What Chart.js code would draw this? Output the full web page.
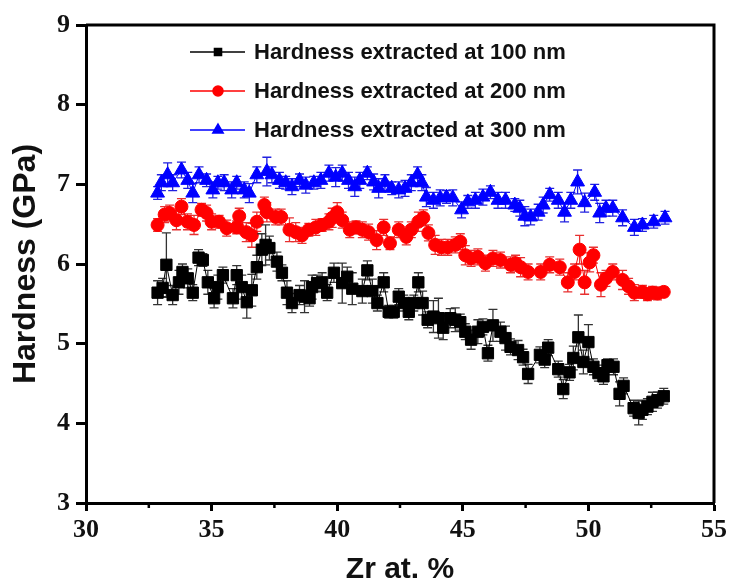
<!DOCTYPE html>
<html>
<head>
<meta charset="utf-8">
<script src="https://cdn.jsdelivr.net/npm/chart.js@4/dist/chart.umd.min.js"></script>
<style>
  html, body { margin: 0; padding: 0; background: #fff; }
  #wrap { width: 731px; height: 580px; }
</style>
</head>
<body>
<div id="wrap"><canvas id="myChart" width="731" height="580"></canvas></div>
<script>
// Hardness vs Zr content, three extraction depths
const zr100 = [32.85, 33.05, 33.2, 33.45, 33.7, 33.84, 34.05, 34.25, 34.48, 34.65, 34.85, 35.1, 35.25, 35.45, 35.85, 36.0, 36.2, 36.4, 36.6, 36.8, 37.0, 37.15, 37.3, 37.6, 37.8, 38.0, 38.2, 38.5, 38.7, 38.9, 39.0, 39.2, 39.4, 39.6, 39.87, 40.2, 40.4, 40.6, 41.0, 41.2, 41.4, 41.6, 41.85, 42.05, 42.25, 42.45, 42.65, 42.85, 43.05, 43.23, 43.4, 43.6, 43.83, 44.03, 44.22, 44.5, 44.7, 44.9, 45.1, 45.33, 45.6, 45.8, 46.0, 46.2, 46.5, 46.7, 46.9, 47.2, 47.4, 47.6, 48.07, 48.26, 48.4, 48.8, 49.0, 49.25, 49.4, 49.6, 49.8, 50.0, 50.2, 50.4, 50.6, 50.76, 51.0, 51.24, 51.4, 51.8, 52.0, 52.15, 52.35, 52.55, 52.75, 53.0]
const h100 = [5.64, 5.70, 5.99, 5.61, 5.77, 5.90, 5.82, 5.64, 6.08, 6.05, 5.77, 5.57, 5.71, 5.86, 5.57, 5.86, 5.71, 5.52, 5.67, 5.96, 6.18, 6.24, 6.20, 6.03, 5.89, 5.64, 5.51, 5.61, 5.59, 5.57, 5.71, 5.76, 5.77, 5.64, 5.89, 5.76, 5.84, 5.69, 5.66, 5.92, 5.66, 5.51, 5.77, 5.40, 5.40, 5.59, 5.51, 5.40, 5.51, 5.77, 5.51, 5.30, 5.34, 5.32, 5.20, 5.32, 5.30, 5.27, 5.15, 5.05, 5.15, 5.21, 4.88, 5.23, 5.15, 5.07, 4.96, 4.92, 4.83, 4.62, 4.86, 4.80, 4.95, 4.68, 4.43, 4.64, 4.82, 5.08, 4.77, 5.02, 4.71, 4.63, 4.59, 4.73, 4.71, 4.37, 4.47, 4.19, 4.13, 4.17, 4.21, 4.27, 4.29, 4.34]
const e100 = [0.15, 0.12, 0.40, 0.12, 0.15, 0.10, 0.12, 0.10, 0.10, 0.08, 0.15, 0.12, 0.15, 0.10, 0.12, 0.12, 0.15, 0.20, 0.20, 0.15, 0.20, 0.25, 0.15, 0.12, 0.10, 0.15, 0.12, 0.12, 0.20, 0.10, 0.15, 0.10, 0.12, 0.10, 0.12, 0.25, 0.12, 0.20, 0.15, 0.12, 0.15, 0.10, 0.12, 0.08, 0.08, 0.10, 0.10, 0.10, 0.10, 0.12, 0.15, 0.10, 0.20, 0.25, 0.15, 0.12, 0.15, 0.10, 0.10, 0.12, 0.15, 0.10, 0.10, 0.20, 0.12, 0.15, 0.10, 0.12, 0.10, 0.12, 0.10, 0.10, 0.10, 0.10, 0.12, 0.10, 0.15, 0.28, 0.15, 0.22, 0.10, 0.10, 0.10, 0.08, 0.10, 0.15, 0.10, 0.10, 0.15, 0.12, 0.10, 0.12, 0.10, 0.10]

const zr200 = [32.85, 33.13, 33.33, 33.6, 33.8, 34.04, 34.3, 34.6, 34.8, 35.0, 35.3, 35.6, 36.0, 36.1, 36.38, 36.6, 36.8, 37.1, 37.2, 37.55, 37.77, 38.1, 38.35, 38.6, 38.87, 39.15, 39.4, 39.67, 39.8, 40.0, 40.2, 40.5, 40.75, 41.0, 41.25, 41.57, 41.85, 42.1, 42.45, 42.75, 42.95, 43.23, 43.43, 43.63, 43.9, 44.15, 44.4, 44.7, 44.9, 45.1, 45.33, 45.6, 45.9, 46.2, 46.5, 46.9, 47.1, 47.3, 47.6, 48.1, 48.46, 48.86, 49.18, 49.45, 49.65, 49.85, 50.05, 50.2, 50.5, 50.7, 50.97, 51.36, 51.6, 51.83, 52.15, 52.35, 52.55, 52.75, 53.0]
const h200 = [6.49, 6.62, 6.64, 6.55, 6.72, 6.53, 6.49, 6.68, 6.64, 6.53, 6.53, 6.45, 6.46, 6.60, 6.40, 6.36, 6.53, 6.74, 6.65, 6.59, 6.59, 6.43, 6.40, 6.36, 6.43, 6.46, 6.49, 6.53, 6.58, 6.65, 6.55, 6.43, 6.46, 6.43, 6.40, 6.30, 6.46, 6.26, 6.43, 6.34, 6.43, 6.53, 6.58, 6.39, 6.24, 6.21, 6.21, 6.24, 6.28, 6.11, 6.07, 6.09, 6.01, 6.07, 6.05, 5.99, 6.01, 5.96, 5.90, 5.90, 5.99, 5.96, 5.77, 5.90, 6.18, 5.77, 6.02, 6.11, 5.74, 5.82, 5.90, 5.80, 5.72, 5.64, 5.65, 5.62, 5.64, 5.63, 5.65]
const e200 = [0.08, 0.10, 0.10, 0.12, 0.10, 0.10, 0.12, 0.08, 0.10, 0.10, 0.08, 0.10, 0.08, 0.10, 0.12, 0.15, 0.12, 0.10, 0.12, 0.10, 0.10, 0.15, 0.12, 0.10, 0.08, 0.10, 0.08, 0.10, 0.12, 0.12, 0.10, 0.10, 0.08, 0.10, 0.10, 0.12, 0.10, 0.08, 0.10, 0.10, 0.10, 0.12, 0.10, 0.10, 0.12, 0.10, 0.10, 0.10, 0.10, 0.12, 0.10, 0.10, 0.10, 0.10, 0.10, 0.10, 0.10, 0.12, 0.10, 0.10, 0.10, 0.10, 0.12, 0.10, 0.18, 0.15, 0.12, 0.10, 0.15, 0.10, 0.10, 0.12, 0.10, 0.10, 0.08, 0.08, 0.08, 0.08, 0.06]

const zr300 = [32.85, 33.0, 33.25, 33.45, 33.8, 34.05, 34.25, 34.5, 34.8, 35.05, 35.25, 35.5, 35.8, 36.0, 36.3, 36.5, 36.8, 37.2, 37.4, 37.7, 37.95, 38.2, 38.5, 38.75, 39.07, 39.35, 39.67, 39.94, 40.2, 40.45, 40.7, 40.9, 41.2, 41.45, 41.65, 41.9, 42.17, 42.45, 42.7, 42.95, 43.2, 43.37, 43.55, 43.83, 44.1, 44.35, 44.6, 44.95, 45.2, 45.5, 45.8, 46.1, 46.4, 46.7, 47.07, 47.27, 47.47, 47.7, 48.0, 48.2, 48.46, 48.8, 49.05, 49.3, 49.57, 49.85, 50.25, 50.45, 50.7, 50.97, 51.36, 51.83, 52.15, 52.6, 53.05]
const h300 = [6.89, 7.02, 7.12, 7.02, 7.18, 7.05, 6.89, 7.12, 7.05, 6.93, 7.02, 7.02, 6.93, 7.02, 6.93, 6.89, 7.12, 7.16, 7.12, 7.05, 7.02, 6.97, 7.05, 6.99, 7.02, 7.05, 7.14, 7.09, 7.14, 7.05, 6.97, 7.05, 7.14, 7.03, 6.95, 7.02, 6.95, 6.93, 6.95, 7.02, 7.12, 7.02, 6.84, 6.80, 6.83, 6.84, 6.83, 6.68, 6.78, 6.80, 6.84, 6.90, 6.80, 6.80, 6.74, 6.70, 6.60, 6.59, 6.65, 6.74, 6.87, 6.80, 6.65, 6.80, 7.03, 6.77, 6.90, 6.64, 6.70, 6.70, 6.58, 6.46, 6.49, 6.53, 6.58]
const e300 = [0.08, 0.10, 0.15, 0.10, 0.10, 0.10, 0.12, 0.10, 0.08, 0.10, 0.08, 0.10, 0.10, 0.08, 0.10, 0.12, 0.10, 0.18, 0.10, 0.10, 0.08, 0.10, 0.08, 0.10, 0.08, 0.10, 0.10, 0.12, 0.10, 0.10, 0.12, 0.10, 0.08, 0.10, 0.12, 0.10, 0.08, 0.10, 0.10, 0.10, 0.10, 0.10, 0.12, 0.10, 0.10, 0.08, 0.10, 0.10, 0.08, 0.10, 0.10, 0.08, 0.10, 0.10, 0.08, 0.10, 0.12, 0.10, 0.10, 0.10, 0.08, 0.10, 0.12, 0.10, 0.15, 0.12, 0.10, 0.12, 0.10, 0.10, 0.10, 0.10, 0.08, 0.08, 0.08]

const xTicks = [30, 35, 40, 45, 50, 55]
const xMinor = [32.5, 37.5, 42.5, 47.5, 52.5]
const yTicks = [3, 4, 5, 6, 7, 8, 9]

const seriesLabels = ['Hardness extracted at 100 nm', 'Hardness extracted at 200 nm', 'Hardness extracted at 300 nm']

const toPoints = (xs, ys) => xs.map((x, i) => ({ x, y: ys[i] }))

const serif = '"Liberation Serif", "Times New Roman", serif'
const sans = '"Liberation Sans", Arial, sans-serif'

// vertical error bars with caps, drawn under each dataset's markers
const errorBars = {
  id: 'errorBars',
  beforeDatasetDraw(chart, args) {
    const ds = chart.data.datasets[args.index]
    const { x, y } = chart.scales
    const c = chart.ctx
    c.save()
    c.strokeStyle = ds.errorColor
    c.lineWidth = 1.3
    ds.errors.forEach((e, i) => {
      const p = ds.data[i]
      const px = x.getPixelForValue(p.x)
      const top = y.getPixelForValue(p.y + e)
      const bot = y.getPixelForValue(p.y - e)
      c.beginPath()
      c.moveTo(px, top)
      c.lineTo(px, bot)
      c.moveTo(px - 4.5, top)
      c.lineTo(px + 4.5, top)
      c.moveTo(px - 4.5, bot)
      c.lineTo(px + 4.5, bot)
      c.stroke()
    })
    c.restore()
  },
}

// box frame, minor x ticks and the line+symbol legend
const frame = {
  id: 'frame',
  afterDraw(chart) {
    const c = chart.ctx
    const { left, right, top, bottom } = chart.chartArea
    const x = chart.scales.x
    c.save()
    c.strokeStyle = '#000'
    c.lineWidth = 3
    c.beginPath()
    c.moveTo(left, top)
    c.lineTo(right, top)
    c.lineTo(right, bottom)
    c.stroke()

    c.lineWidth = 2.5
    xMinor.forEach((v) => {
      const px = x.getPixelForValue(v)
      c.beginPath()
      c.moveTo(px, bottom)
      c.lineTo(px, bottom + 5)
      c.stroke()
    })

    const rows = [52, 91, 130]
    chart.data.datasets.forEach((ds, i) => {
      const yy = rows[i]
      c.strokeStyle = ds.borderColor
      c.fillStyle = ds.backgroundColor
      c.lineWidth = 1.5
      c.beginPath()
      c.moveTo(190, yy)
      c.lineTo(245, yy)
      c.stroke()
      Chart.helpers.drawPoint(c, {
        pointStyle: ds.pointStyle,
        radius: ds.legendRadius,
        rotation: 0,
        borderWidth: 1,
      }, 218, yy)
      c.fillStyle = '#111'
      c.font = 'bold 22px ' + sans
      c.textAlign = 'left'
      c.textBaseline = 'middle'
      c.fillText(ds.label, 254, yy + 1)
    })
    c.restore()
  },
}

const ctx = document.getElementById('myChart').getContext('2d')
const data = {
  datasets: [
    {
      label: seriesLabels[0],
      data: toPoints(zr100, h100),
      errors: e100,
      errorColor: '#333',
      borderColor: '#000',
      backgroundColor: '#000',
      pointStyle: 'rect',
      pointRadius: 8,
      legendRadius: 5,
      borderWidth: 1,
    },
    {
      label: seriesLabels[1],
      data: toPoints(zr200, h200),
      errors: e200,
      errorColor: '#e83030',
      borderColor: '#ff0000',
      backgroundColor: '#ff0000',
      pointStyle: 'circle',
      pointRadius: 6.5,
      legendRadius: 5,
      borderWidth: 1,
    },
    {
      label: seriesLabels[2],
      data: toPoints(zr300, h300),
      errors: e300,
      errorColor: '#2020e0',
      borderColor: '#0000ff',
      backgroundColor: '#0000ff',
      pointStyle: 'triangle',
      pointRadius: 8,
      legendRadius: 6,
      borderWidth: 1,
    },
  ],
}

const myChart = new Chart(ctx, {
  type: 'line',
  data,
  plugins: [errorBars, frame],
  options: {
    responsive: false,
    animation: false,
    layout: { padding: { top: 25, right: 14, left: 0, bottom: 0 } },
    plugins: {
      legend: { display: false },
      tooltip: { enabled: false },
    },
    scales: {
      x: {
        type: 'linear',
        min: 30,
        max: 55,
        afterBuildTicks: (scale) => {
          scale.ticks = xTicks.map((value) => ({ value }))
        },
        afterFit: (scale) => {
          scale.height = 77
        },
        ticks: {
          color: '#111',
          padding: 4,
          font: { family: serif, size: 26, weight: 'bold' },
        },
        grid: {
          drawOnChartArea: false,
          tickLength: 8,
          tickWidth: 3,
          tickColor: '#000',
        },
        border: { color: '#000', width: 3 },
        title: {
          display: true,
          text: 'Zr at. %',
          color: '#111',
          font: { family: sans, size: 30, weight: 'bold', lineHeight: 0.7 },
          padding: { top: 1, bottom: 0 },
        },
      },
      y: {
        type: 'linear',
        min: 3,
        max: 9,
        afterBuildTicks: (scale) => {
          scale.ticks = yTicks.map((value) => ({ value }))
        },
        afterFit: (scale) => {
          scale.width = 86
        },
        ticks: {
          color: '#111',
          padding: 6,
          font: { family: serif, size: 26, weight: 'bold' },
        },
        grid: {
          drawOnChartArea: false,
          tickLength: 10,
          tickWidth: 3,
          tickColor: '#000',
        },
        border: { color: '#000', width: 3 },
        title: {
          display: true,
          text: 'Hardness (GPa)',
          color: '#111',
          font: { family: sans, size: 32, weight: 'bold', lineHeight: 1 },
          padding: { top: 10, bottom: 0 },
        },
      },
    },
  },
})
</script>
</body>
</html>
